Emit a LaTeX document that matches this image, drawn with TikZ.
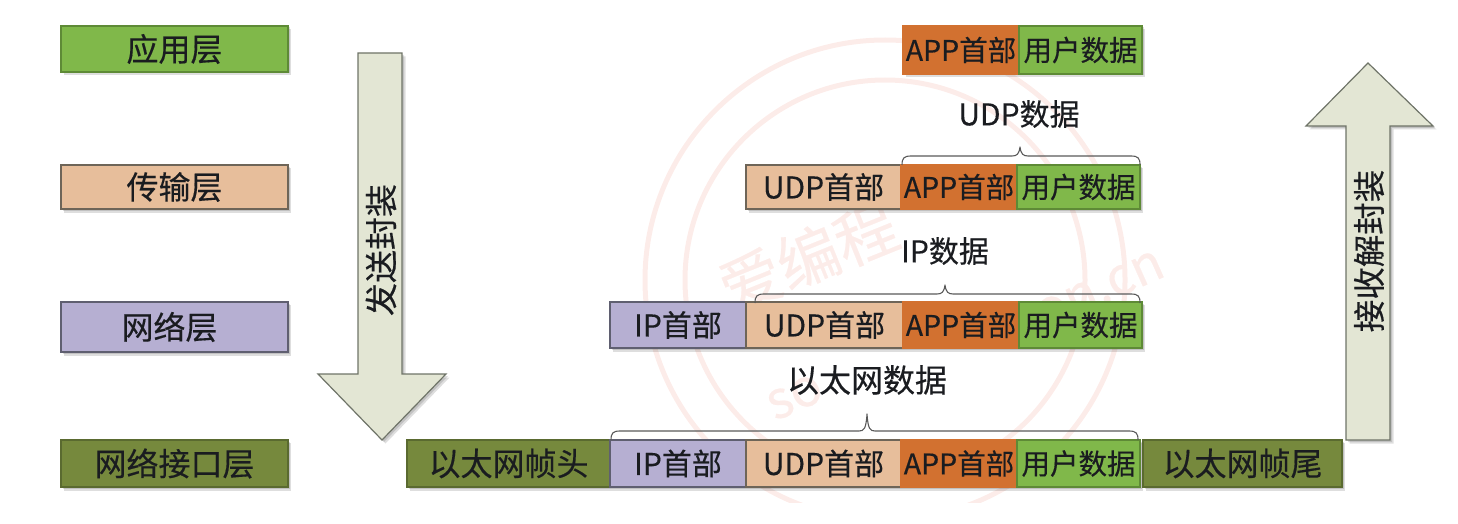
\documentclass[tikz,border=0pt]{standalone}
\usepackage{fontspec}
\setmainfont[FakeBold=0.35]{Noto Sans CJK SC}
\definecolor{gGreen}{HTML}{80B84A}
\definecolor{gGreenD}{HTML}{5E8A36}
\definecolor{gOrange}{HTML}{D27130}
\definecolor{gPeach}{HTML}{E7BE9B}
\definecolor{gPeachD}{HTML}{6E6558}
\definecolor{gLav}{HTML}{B6AFD2}
\definecolor{gLavD}{HTML}{5F5F70}
\definecolor{gOlive}{HTML}{76893D}
\definecolor{gOliveD}{HTML}{5A6A30}
\definecolor{gArrow}{HTML}{E3E6D4}
\definecolor{gArrowD}{HTML}{6F7468}
\definecolor{gInk}{HTML}{1A1C20}
\definecolor{gWater}{HTML}{FCECE9}
\tikzset{
  softfill/.style={fill=black,fill opacity=.13,draw=none},
  blockbox/.style={rectangle,inner sep=0pt,outer sep=0pt,line width=1.2pt,text=gInk,anchor=center},
  big/.style={font=\fontsize{32}{32}\selectfont},
  mid/.style={font=\fontsize{30}{30}\selectfont},
  small/.style={font=\fontsize{28.5}{28.5}\selectfont},
  gbox/.style={blockbox,fill=gGreen,draw=gGreenD},
  obox/.style={blockbox,fill=gOrange,draw=gOrange},
  pbox/.style={blockbox,fill=gPeach,draw=gPeachD},
  lbox/.style={blockbox,fill=gLav,draw=gLavD},
  ebox/.style={blockbox,fill=gOlive,draw=gOliveD},
  labeltext/.style={inner sep=0pt,text=gInk,big},
  arrowshape/.style={fill=gArrow,draw=gArrowD,line width=1.2pt,line join=miter},
  bracepath/.style={draw=black!65,line width=1.1pt,line join=round},
  water/.style={gWater,inner sep=0pt},
  waterring/.style={draw=gWater,line width=5pt},
}
\newcommand{\blk}[7]{%
  \fill[softfill] (#3+1.5,#5+1.5) rectangle (#4+1.5,#6+1.5);
  \fill[softfill] (#3+3,#5+3) rectangle (#4+3,#6+3.5);
  \node[#1,minimum width={(#4-#3)*1pt},minimum height={(#6-#5)*1pt}] (#2) at ({(#3+#4)/2},{(#5+#6)/2}) {#7};}
\newcommand{\brc}[7]{% left right end-y line-y tip-x tip-y name
  \coordinate (#7l) at (#1,#3); \coordinate (#7r) at (#2,#3); \coordinate (#7t) at (#5,#6);
  \draw[bracepath] (#7l) .. controls (#1,#4+2) and (#1+2,#4) .. (#1+9,#4)
    -- (#5-8,#4) .. controls (#5-3,#4) and (#5-1,#4-2) .. (#7t)
    .. controls (#5+1,#4-2) and (#5+3,#4) .. (#5+8,#4)
    -- (#2-9,#4) .. controls (#2-2,#4) and (#2,#4+2) .. (#7r);}
\newcommand{\sendshape}{(358,53) -- (402,53) -- (402,374) -- (446,374) -- (382,440) -- (318,374) -- (358,374) -- cycle}
\newcommand{\recvshape}{(1346,440) -- (1390,440) -- (1390,126) -- (1433,126) -- (1368,63) -- (1306,126) -- (1346,126) -- cycle}
\begin{document}
\begin{tikzpicture}[x=1pt,y=-1pt]
\useasboundingbox (0,0) rectangle (1458,524);
% watermark
\begin{scope}
\clip (600,0) rectangle (1200,502);
\coordinate (wc) at (885,280);
\draw[waterring] (wc) circle[radius=240pt];
\draw[waterring] (wc) circle[radius=200pt];
\end{scope}
\node[water,rotate=22,font=\fontsize{62}{62}\selectfont] (w1) at (808,257) {爱编程};
\node[water,rotate=24,font=\fontsize{52}{52}\selectfont] (w2) at (795,397) {so};
\node[water,rotate=24,font=\fontsize{52}{52}\selectfont] (w3) at (1100,290) {on.cn};
% layer column
\blk{gbox,big}{lay1}{61}{288}{26}{72}{应用层}
\blk{pbox,big}{lay2}{61}{288}{165}{209}{传输层}
\blk{lbox,big}{lay3}{61}{288}{302}{352}{\hspace*{-10pt}网络层}
\blk{ebox,big}{lay4}{61}{288}{440}{487}{网络接口层}
% row 1
\blk{obox,small}{a1}{903}{1019}{26}{74}{APP首部}
\blk{gbox,small}{d1}{1019}{1142}{26}{74}{用户数据}
% row 2
\blk{pbox,mid}{u2}{746}{901}{165}{209}{UDP首部}
\blk{obox,small}{a2}{901}{1017}{165}{209}{APP首部}
\blk{gbox,small}{d2}{1017}{1140}{165}{209}{用户数据}
% row 3
\blk{lbox,mid}{i3}{610}{746}{302}{348}{IP首部}
\blk{pbox,mid}{u3}{746}{903}{302}{348}{UDP首部}
\blk{obox,small}{a3}{903}{1019}{302}{348}{APP首部}
\blk{gbox,small}{d3}{1019}{1142}{302}{348}{用户数据}
% row 4
\blk{ebox,big}{h4}{407}{610}{440}{487}{以太网帧头}
\blk{lbox,mid}{i4}{610}{746}{440}{487}{IP首部}
\blk{pbox,mid}{u4}{746}{901}{440}{487}{UDP首部}
\blk{obox,small}{a4}{901}{1017}{440}{487}{APP首部}
\blk{gbox,small}{d4}{1017}{1140}{440}{487}{用户数据}
\blk{ebox,big}{t4}{1143}{1342}{440}{487}{以太网帧尾}
% labels
\node[labeltext,mid] (lu) at (1019,114) {UDP数据};
\node[labeltext,mid] (li) at (945,251) {IP数据};
\node[labeltext] (le) at (867,380) {以太网数据};
% braces
\brc{902}{1140}{165}{156}{1020}{147}{bu}
\brc{755}{1140}{303}{294}{945}{285}{bi}
\brc{611}{1138}{440}{431}{867}{414}{be}
% arrows
\fill[softfill,shift={(2,2)}] \sendshape;
\fill[softfill,shift={(3.5,3.5)}] \sendshape;
\path[arrowshape] \sendshape;
\fill[softfill,shift={(2,2)}] \recvshape;
\fill[softfill,shift={(3.5,3.5)}] \recvshape;
\path[arrowshape] \recvshape;
\node[labeltext,rotate=90,font=\fontsize{33}{33}\selectfont] (sendt) at (381,250) {发送封装};
\node[labeltext,rotate=90,font=\fontsize{32.5}{32.5}\selectfont] (recvt) at (1369,251) {接收解封装};
\end{tikzpicture}
\end{document}
